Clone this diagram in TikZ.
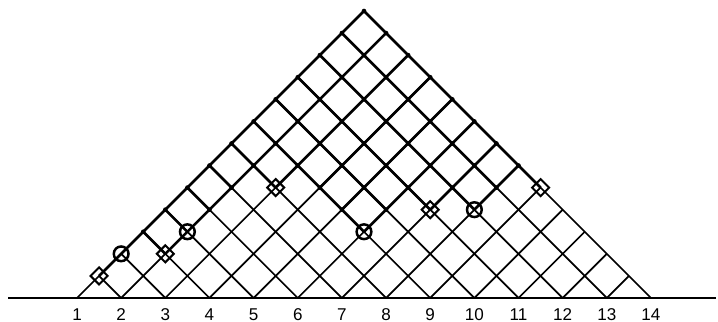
\documentclass[tikz,border=0pt]{standalone}
\usepackage{fontspec}
\setmainfont{Liberation Sans}
\usetikzlibrary{shapes.geometric}
\tikzset{
  griglia/.style={line width=1.1pt},
  spessa/.style={line width=1.7pt},
  tondo/.style={circle,draw,line width=1.6pt,minimum size=9.5pt,inner sep=0pt},
  rombo/.style={diamond,draw,line width=1.3pt,minimum size=11.5pt,inner sep=0pt},
}
\begin{document}
\begin{tikzpicture}
  \useasboundingbox (-1.744,-0.544) rectangle (14.518,6.749);
  % p-i-j: incrocio della retta da i (verso destra) con quella da j (verso sinistra)
  \foreach \i in {1,...,14} {
    \foreach \j in {\i,...,14} {
      \coordinate (p-\i-\j) at ({(\i+\j)/2-1},{(\j-\i)/2});
    }
  }
  \coordinate (sx) at (-1.56,0);
  \coordinate (dx) at (14.47,0);
  \draw[line width=1.3pt] (sx) -- (dx);

  \foreach \k in {1,...,14} {
    \draw[griglia] (p-\k-\k) -- (p-\k-14);
    \draw[griglia] (p-\k-\k) -- (p-1-\k);
  }
  % parte alta: tratti spessi e punti
  \foreach \i/\j in {1/2,2/4,3/8,4/9,5/9,6/9,7/11,8/12}
    \draw[spessa] (p-\i-\j) -- (p-\i-14);
  \foreach \j/\i in {4/2,5/2,6/2,7/2,8/3,9/6,10/6,11/7,12/8,13/8,14/9}
    \draw[spessa] (p-\i-\j) -- (p-1-\j);
  \foreach \i/\a in {1/4,2/6,3/9,4/9,5/9,6/10,7/12,8/13}
    \foreach \j in {\a,...,14}
      \fill (p-\i-\j) circle (1.5pt);

  \foreach \i/\j in {1/2,2/4,3/8,7/11,9/14}
    \node[rombo] (r-\i-\j) at (p-\i-\j) {};
  \foreach \i/\j in {1/3,2/5,6/9,8/12}
    \node[tondo] (c-\i-\j) at (p-\i-\j) {};

  \foreach \k in {1,...,14}
    \node[below=3.4pt,font=\fontsize{11}{13}\selectfont] (n\k) at (p-\k-\k) {\k};
\end{tikzpicture}
\end{document}
